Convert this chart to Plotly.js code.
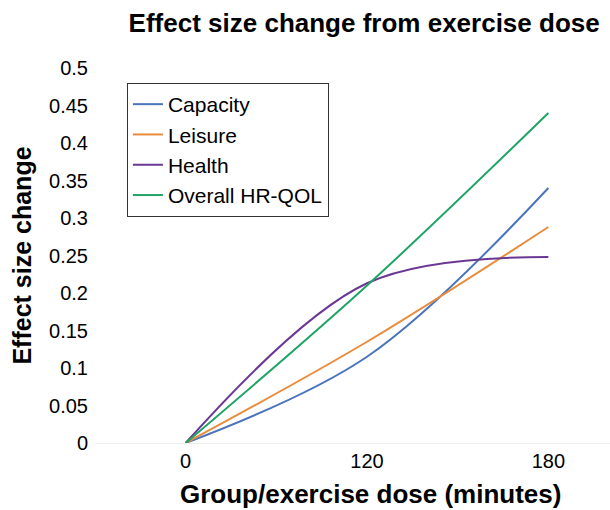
<!DOCTYPE html>
<html>
<head>
<meta charset="utf-8">
<script src="https://cdn.plot.ly/plotly-3.0.1.min.js"></script>
<style>html,body{margin:0;padding:0;background:#fff;}#chart{width:610px;height:510px;}</style>
</head>
<body>
<div id="chart"></div>
<script>
const doses = ['0', '120', '180'];
const capacity = [0, 0.115, 0.34];
const leisure = [0, 0.135, 0.288];
const health = [0, 0.213, 0.248];
const overall = [0, 0.21, 0.44];
const seriesNames = ['Capacity', 'Leisure', 'Health', 'Overall HR-QOL'];
const seriesColors = ['#4a74bb', '#e98c3c', '#6a3894', '#1fa466'];
const yTicks = [0, 0.05, 0.1, 0.15, 0.2, 0.25, 0.3, 0.35, 0.4, 0.45, 0.5];

const values = [capacity, leisure, health, overall];
const traces = values.map((v, i) => ({
  type: 'scatter', mode: 'lines', x: doses, y: v, name: seriesNames[i],
  line: {color: seriesColors[i], width: 2, shape: 'spline', smoothing: 1}
}));

const font = 'Liberation Sans, Arial, sans-serif';
const layout = {
  width: 610, height: 510,
  margin: {l: 95, r: 0, t: 68, b: 67},
  paper_bgcolor: '#fff', plot_bgcolor: '#fff',
  font: {family: font, color: '#000'},
  title: {text: '<b>Effect size change from exercise dose</b>', font: {size: 26, family: font, color: '#000'},
          x: 0.597, xanchor: 'center', y: 0.955, yanchor: 'middle'},
  xaxis: {type: 'category', range: [-0.5, 2.34], showgrid: false, zeroline: false,
          showline: true, linecolor: '#eeeeee', linewidth: 1, ticks: '',
          tickfont: {size: 20, family: font, color: '#000'}},
  yaxis: {range: [0, 0.5], tickvals: yTicks, ticktext: yTicks.map(String), showgrid: false, zeroline: false,
          showline: false, ticks: '', ticklabelstandoff: 6,
          tickfont: {size: 20, family: font, color: '#000'},
          title: {text: '<b>Effect size change</b>', font: {size: 25, family: font, color: '#000'}, standoff: 10}},
  annotations: [{
    text: '<b>Group/exercise dose (minutes)</b>', xref: 'paper', yref: 'paper',
    x: 0.534, y: -0.135, xanchor: 'center', yanchor: 'middle', showarrow: false,
    font: {size: 26, family: font, color: '#000'}
  }],
  legend: {x: 0.062, y: 0.96, xanchor: 'left', yanchor: 'top', bgcolor: '#fff',
           bordercolor: '#333', borderwidth: 1, font: {size: 21, family: font, color: '#000'},
           itemwidth: 30, tracegroupgap: 0},
  showlegend: true
};
Plotly.newPlot('chart', traces, layout, {displayModeBar: false, staticPlot: true});
</script>
</body>
</html>
